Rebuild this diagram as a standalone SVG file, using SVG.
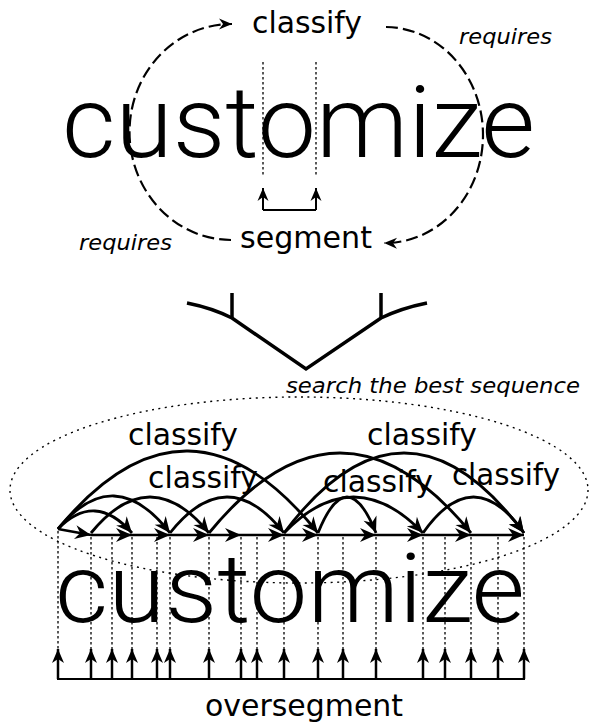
<svg xmlns="http://www.w3.org/2000/svg" width="590" height="722" viewBox="0 0 590 722">
  <style>
    .lbl { font-family: "DejaVu Sans", "Bitstream Vera Sans", sans-serif; font-size: 29.5px; fill: #000; }
    .ital { font-family: "DejaVu Sans", sans-serif; font-style: italic; font-size: 22px; fill: #000; }
    .hand { font-family: Roboto, "Open Sans", sans-serif; font-weight: 300; fill: #000; }
    .dash { fill: none; stroke: #000; stroke-width: 2.2; stroke-dasharray: 12 5; }
    .dot { fill: none; stroke: #000; stroke-width: 1.3; stroke-dasharray: 2.5 2.5; }
    .ell { fill: none; stroke: #000; stroke-width: 1.4; stroke-dasharray: 2 4.5; }
    .arc { fill: none; stroke: #000; stroke-width: 2.8; marker-end: url(#head); }
    .seg { fill: none; stroke: #000; stroke-width: 2.5; marker-end: url(#head); }
    .up { fill: none; stroke: #000; stroke-width: 2.5; marker-end: url(#uphead); }
    .thin { fill: none; stroke: #000; stroke-width: 2; }
    .fork { fill: none; stroke: #000; stroke-width: 3.5; stroke-linejoin: miter; }
  </style>
  <defs>
    <marker id="head" viewBox="-17 -8 18 16" refX="0" refY="0" markerWidth="18" markerHeight="16" markerUnits="userSpaceOnUse" orient="auto">
      <path d="M0,0 L-16,-7 L-11,0 L-16,7 Z" fill="#000"/>
    </marker>
    <marker id="uphead" viewBox="-15 -7 16 14" refX="0" refY="0" markerWidth="16" markerHeight="14" markerUnits="userSpaceOnUse" orient="auto">
      <path d="M0,0 L-14,-6 L-10,0 L-14,6 Z" fill="#000"/>
    </marker>
    <marker id="small" viewBox="-14 -7 15 14" refX="0" refY="0" markerWidth="15" markerHeight="14" markerUnits="userSpaceOnUse" orient="auto">
      <path d="M0,0 L-13,-5.5 L-9,0 L-13,5.5 Z" fill="#000"/>
    </marker>
  </defs>

  <!-- upper panel: classify / segment loop -->
  <g id="word-top">
    <text class="hand" x="62" y="157" font-size="100" textLength="473" lengthAdjust="spacingAndGlyphs">customize</text>
  </g>
  <g id="cut-marks-top">
    <line class="dot" x1="263" y1="62" x2="263" y2="176"/>
    <line class="dot" x1="316" y1="62" x2="316" y2="176"/>
    <path class="thin" d="M263,210 H316"/>
    <path class="thin" d="M263,210 V188" marker-end="url(#small)"/>
    <path class="thin" d="M316,210 V188" marker-end="url(#small)"/>
  </g>
  <g id="classify-top">
    <text class="lbl" x="252" y="33" textLength="110" lengthAdjust="spacingAndGlyphs">classify</text>
  </g>
  <g id="segment-top">
    <text class="lbl" x="240" y="248" textLength="132" lengthAdjust="spacingAndGlyphs">segment</text>
  </g>
  <g id="requires-right">
    <text class="ital" x="459" y="44" textLength="93" lengthAdjust="spacingAndGlyphs">requires</text>
  </g>
  <g id="requires-left">
    <text class="ital" x="79" y="250" textLength="93" lengthAdjust="spacingAndGlyphs">requires</text>
  </g>
  <g id="loop-connectors">
    <path class="dash" d="M231,240 A102,108 0 0 1 232,24" marker-end="url(#small)"/>
    <path class="dash" d="M386,27 A98,108 0 0 1 384,243" marker-end="url(#small)"/>
  </g>

  <!-- merge symbol -->
  <g id="merge">
    <path class="fork" d="M187,303 Q212,308 232,318 L306,369 L381,318 Q402,308 427,303"/>
    <line class="fork" x1="232" y1="293" x2="232" y2="318"/>
    <line class="fork" x1="381" y1="293" x2="381" y2="318"/>
    <text class="ital" x="286" y="393" textLength="294" lengthAdjust="spacingAndGlyphs">search the best sequence</text>
  </g>

  <!-- lower panel: segmentation lattice -->
  <g id="lattice-region">
    <ellipse class="ell" cx="299" cy="490" rx="289" ry="93"/>
  </g>
  <g id="word-bottom">
    <text class="hand" x="55" y="622" font-size="96" textLength="470" lengthAdjust="spacingAndGlyphs">customize</text>
  </g>
  <g id="cut-lines">
    <path class="dot" d="M58,531 V650 M91,537 V650 M112,537 V650 M132,537 V650 M157,537 V650 M170,537 V650 M209,537 V650 M241,537 V650 M257,537 V650 M284,537 V650 M318,537 V650 M343,537 V650 M376,537 V650 M423,537 V650 M445,537 V650 M471,537 V650 M498,537 V650 M524,537 V650"/>
  </g>
  <g id="oversegment-arrows">
    <path class="thin" stroke-width="2.5" d="M57,679 H525"/>
    <path class="up" d="M58,679 V649"/>
    <path class="up" d="M91,679 V649"/>
    <path class="up" d="M112,679 V649"/>
    <path class="up" d="M132,679 V649"/>
    <path class="up" d="M157,679 V649"/>
    <path class="up" d="M170,679 V649"/>
    <path class="up" d="M209,679 V649"/>
    <path class="up" d="M241,679 V649"/>
    <path class="up" d="M257,679 V649"/>
    <path class="up" d="M284,679 V649"/>
    <path class="up" d="M318,679 V649"/>
    <path class="up" d="M343,679 V649"/>
    <path class="up" d="M376,679 V649"/>
    <path class="up" d="M423,679 V649"/>
    <path class="up" d="M445,679 V649"/>
    <path class="up" d="M471,679 V649"/>
    <path class="up" d="M498,679 V649"/>
    <path class="up" d="M524,679 V649"/>
  </g>
  <g id="oversegment">
    <text class="lbl" x="205" y="716" textLength="198" lengthAdjust="spacingAndGlyphs">oversegment</text>
  </g>

  <g id="connectors">
    <!-- chain between neighbouring cuts -->
    <path class="seg" d="M58,529 L91,535"/>
    <path class="seg" d="M91,535 L132,535"/>
    <path class="seg" d="M132,535 L170,535"/>
    <path class="seg" d="M170,535 L209,535"/>
    <path class="seg" d="M209,535 L241,535"/>
    <path class="seg" d="M241,535 L284,535"/>
    <path class="seg" d="M284,535 L318,535"/>
    <path class="seg" d="M318,535 L376,535"/>
    <path class="seg" d="M376,535 L423,535"/>
    <path class="seg" d="M423,535 L471,535"/>
    <path class="seg" d="M471,535 L524,535"/>
    <!-- classification hypotheses spanning several cuts -->
    <path class="arc" d="M58,529 Q188,371 318,533"/>
    <path class="arc" d="M209,533 Q340,373 471,533"/>
    <path class="arc" d="M284,533 Q404,373 524,533"/>
    <path class="arc" d="M58,529 Q95,491 132,533"/>
    <path class="arc" d="M58,529 Q114,461 170,533"/>
    <path class="arc" d="M91,533 Q150,461 209,533"/>
    <path class="arc" d="M170,533 Q227,461 284,533"/>
    <path class="arc" d="M284,533 Q353.5,461 423,533"/>
    <path class="arc" d="M318,533 Q347,461 376,533"/>
    <path class="arc" d="M423,533 Q473.5,461 524,533"/>
  </g>

  <g id="classify-labels">
    <text class="lbl" x="128" y="445" textLength="110" lengthAdjust="spacingAndGlyphs">classify</text>
    <text class="lbl" x="148" y="488" textLength="110" lengthAdjust="spacingAndGlyphs">classify</text>
    <text class="lbl" x="367" y="445" textLength="110" lengthAdjust="spacingAndGlyphs">classify</text>
    <text class="lbl" x="323" y="492" textLength="110" lengthAdjust="spacingAndGlyphs">classify</text>
    <text class="lbl" x="452" y="485" textLength="108" lengthAdjust="spacingAndGlyphs">classify</text>
  </g>
</svg>
